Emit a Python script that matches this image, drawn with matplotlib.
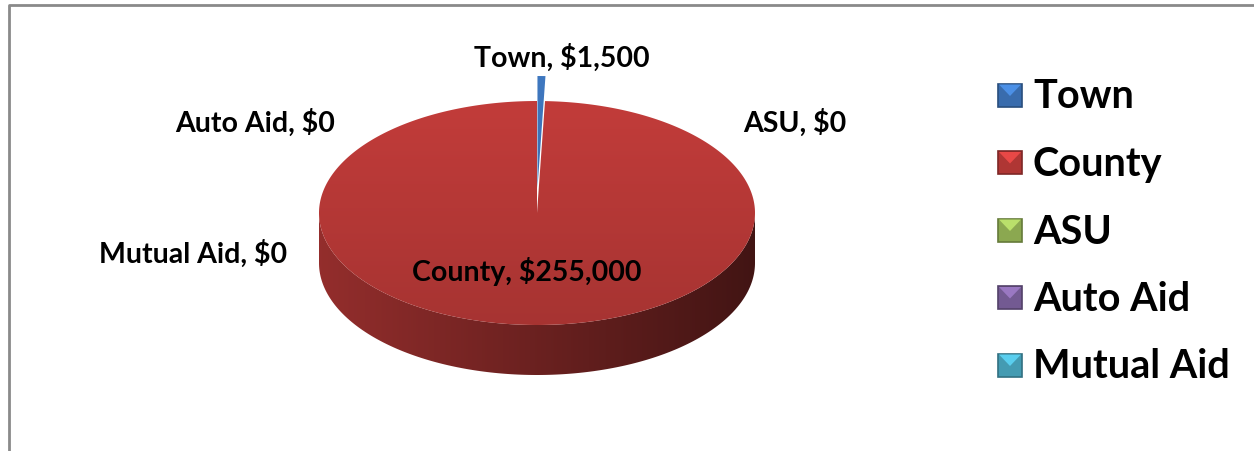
import numpy as np
import matplotlib
matplotlib.use("Agg")
import matplotlib.pyplot as plt
from matplotlib.patches import Polygon, Rectangle
from matplotlib.colors import to_rgb

# data
categories = ["Town", "County", "ASU", "Auto Aid", "Mutual Aid"]
values = [1500, 255000, 0, 0, 0]
colors = ["#3F78C0", "#C23C3A", "#9BBB59", "#8064A2", "#4BACC6"]

# layout (pixels)
W, H = 1254, 451
CX, CY = 537, 213
RX, RY = 218, 112
DEPTH = 50
EXPLODE = {"Town": 25}
LABEL_POS = {
    "Town": (562, 58),
    "County": (527, 271),
    "ASU": (795, 123),
    "Auto Aid": (255, 123),
    "Mutual Aid": (193, 254),
}
FONT = "Lato"

fig = plt.figure(figsize=(W / 100, H / 100), dpi=100)
ax = fig.add_axes([0, 0, 1, 1])
ax.set_xlim(0, W)
ax.set_ylim(H, 0)
ax.axis("off")


def shade(color, k):
    r, g, b = to_rgb(color)
    return (min(r * k, 1), min(g * k, 1), min(b * k, 1))


def ell(t, cx, cy):
    t = np.radians(t)
    return cx + RX * np.cos(t), cy - RY * np.sin(t)


total = float(sum(values))
start = 90.0
wedges = []
for name, val, col in zip(categories, values, colors):
    sweep = 360.0 * val / total
    t1, t2 = start - sweep, start
    start = t1
    if val == 0:
        continue
    mid = np.radians((t1 + t2) / 2)
    e = EXPLODE.get(name, 0)
    cx = CX + e * np.cos(mid)
    cy = CY - e * np.sin(mid)
    wedges.append((name, col, t1, t2, cx, cy))

# exploded town sits behind the big slice
order = sorted(wedges, key=lambda w: -EXPLODE.get(w[0], 0))
for name, col, t1, t2, cx, cy in order:
    # front side wall, horizontal gradient
    lo, hi = max(t1, -180.0), min(t2, 0.0)
    if hi > lo:
        ts = np.linspace(lo, hi, 200)
        xs, ys = ell(ts, cx, cy)
        pts = list(zip(xs, ys)) + list(zip(xs[::-1], ys[::-1] + DEPTH))
        side = Polygon(pts, closed=True, facecolor="none", edgecolor="none", zorder=2)
        ax.add_patch(side)
        kk = np.linspace(0.76, 0.34, 200)
        grad = np.clip(kk[None, :, None] * np.array(to_rgb(col))[None, None, :], 0, 1)
        im = ax.imshow(grad, extent=(cx - RX, cx + RX, cy + RY + DEPTH, cy - RY),
                       aspect="auto", zorder=2, interpolation="bilinear")
        im.set_clip_path(side)
    # top face, vertical gradient
    ts = np.linspace(t1, t2, max(3, int((t2 - t1) * 2)))
    xs, ys = ell(ts, cx, cy)
    pts = [(cx, cy)] + list(zip(xs, ys))
    poly = Polygon(pts, closed=True, facecolor="none", edgecolor="none", zorder=3)
    ax.add_patch(poly)
    kk = np.linspace(1.0, 0.86, 100)
    grad = np.clip(kk[:, None, None] * np.array(to_rgb(col))[None, None, :], 0, 1)
    im = ax.imshow(grad, extent=(cx - RX, cx + RX, cy + RY, cy - RY), aspect="auto",
                   zorder=3, interpolation="bilinear")
    im.set_clip_path(poly)

# data labels
for name, val in zip(categories, values):
    x, y = LABEL_POS[name]
    ax.text(x, y, f"{name}, ${val:,}", ha="center", va="center", fontsize=20.5,
            fontfamily=FONT, fontweight="bold", color="black", zorder=5)

# legend
for i, (name, col) in enumerate(zip(categories, colors)):
    y = 95 + i * 67.5
    ax.add_patch(Rectangle((998, y - 11.5), 24, 23, facecolor=shade(col, 0.9),
                           edgecolor=shade(col, 0.65), linewidth=1.2, zorder=4))
    ax.add_patch(Polygon([(999, y - 10.5), (1021, y - 10.5), (1010, y + 1)], closed=True,
                         facecolor=shade(col, 1.2), edgecolor="none", zorder=4))
    ax.text(1033, y + 2, name, ha="left", va="center", fontsize=28.5,
            fontfamily=FONT, fontweight="bold", color="black", zorder=5)

# chart border
ax.plot([9, 9, W], [H, 5, 5], color="#8a8a8a", linewidth=2, solid_capstyle="butt", zorder=6)

fig.savefig("out.png", dpi=100)
